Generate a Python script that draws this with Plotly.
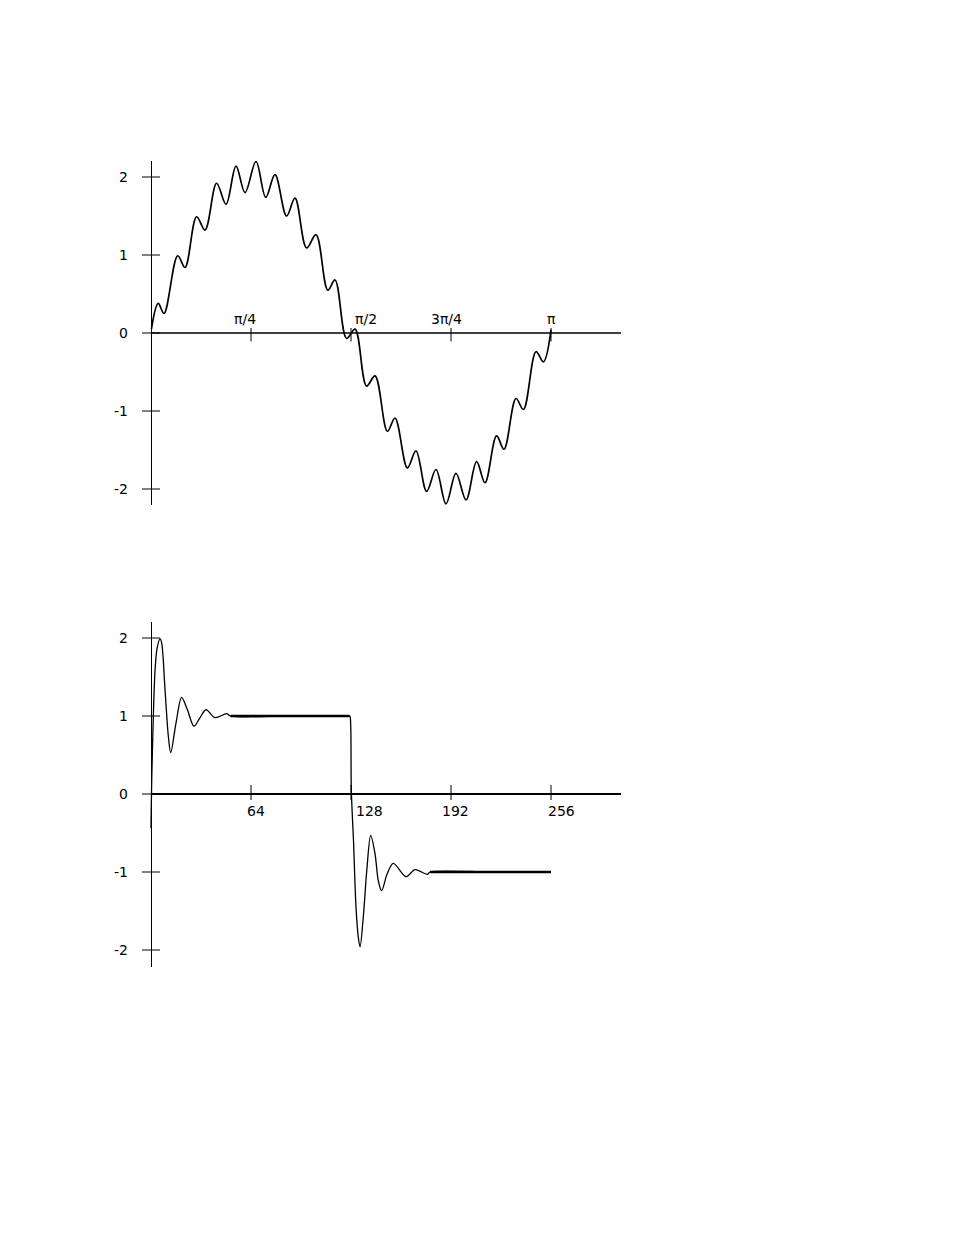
import numpy as np
import plotly.graph_objects as go

# ---------------- data ----------------
# Top panel: x in multiples of pi, y values
top_x_over_pi = [0.001, 0.018, 0.0325, 0.0668, 0.085, 0.114, 0.135, 0.164, 0.1875,
                 0.2125, 0.235, 0.2625, 0.2868, 0.31, 0.339, 0.36, 0.389, 0.4125,
                 0.442, 0.46, 0.489, 0.51, 0.539, 0.56, 0.591, 0.61, 0.641, 0.6625,
                 0.689, 0.7125, 0.7375, 0.7625, 0.7875, 0.814, 0.835, 0.864, 0.8825,
                 0.9125, 0.931, 0.9625, 0.981, 1.0]
top_y = [0.05, 0.38, 0.25, 0.99, 0.84, 1.49, 1.32, 1.92, 1.65,
         2.14, 1.80, 2.20, 1.74, 2.03, 1.50, 1.73, 1.09, 1.26,
         0.55, 0.68, -0.07, 0.05, -0.68, -0.55, -1.26, -1.09, -1.73, -1.51,
         -2.03, -1.75, -2.19, -1.80, -2.14, -1.65, -1.92, -1.32, -1.49,
         -0.84, -0.98, -0.24, -0.37, 0.04]
top_xtick_over_pi = [0.25, 0.5, 0.75, 1.0]
top_xtick_labels = ["π/4", "π/2", "3π/4", "π"]

# Bottom panel: sample index n, y values
bottom_n = [0, 0.6, 2.6, 4.0, 5.8, 6.8, 9.0, 11.1, 12.6, 16.0, 19.6, 23.3, 27.5,
            31.4, 35.2, 41.0, 48.4, 51.0, 90.0, 125.5, 127.2, 127.8, 128.2, 129.6,
            131.2, 132.7, 133.8, 135.9, 138.1, 140.6, 143.4, 145.5, 147.6, 151.2,
            155.1, 163.2, 169.0, 176.8, 178.6, 217.0, 256.0]
bottom_y = [-0.44, 0.30, 1.59, 1.88, 1.99, 1.94, 1.33, 0.74, 0.53, 0.91, 1.24, 1.08, 0.87,
            0.98, 1.08, 0.98, 1.03, 1.0, 1.0, 1.0, 1.0, 0.88, 0.05, -0.6,
            -1.45, -1.84, -1.96, -1.57, -0.98, -0.53, -0.77, -1.115, -1.24, -1.02,
            -0.89, -1.06, -0.97, -1.03, -1.0, -1.0, -1.0]
bottom_xtick_vals = [64, 128, 192, 256]
bottom_xtick_labels = ["64", "128", "192", "256"]

ytick_vals = [2, 1, 0, -1, -2]
ytick_labels = ["2", "1", "0", "-1", "-2"]

# ---------------- layout geometry (pixels, page coordinates) ----------------
BODY = 8                      # default page margin around the plot div
W, H = 954 - BODY, 1235 - BODY
AX_X0 = 151 - BODY            # pixel of x = 0
PLOT_L, PLOT_R = 121 - BODY, 631 - BODY
AXIS_END = 621 - BODY
PX_PER_Y = 78.0

top_ppu = 400.0 / np.pi        # pixels per radian
bot_ppu = 100.0 / 64.0         # pixels per sample

top_y_px = (161 - BODY, 505 - BODY, 333 - BODY)     # top, bottom, zero
bot_y_px = (622 - BODY, 967 - BODY, 794 - BODY)

FONT = dict(family="DejaVu Sans, Liberation Sans, sans-serif", size=14, color="black")


def xdomain():
    return [PLOT_L / W, PLOT_R / W]


def ydomain(py):
    return [1 - py[1] / H, 1 - py[0] / H]


def yrange(py):
    return [-(py[1] - py[2]) / PX_PER_Y, (py[2] - py[0]) / PX_PER_Y]


fig = go.Figure()

top_x = [v * np.pi for v in top_x_over_pi]
fig.add_trace(go.Scatter(x=top_x, y=top_y, mode="lines", xaxis="x", yaxis="y",
                         line=dict(color="black", width=1.7, shape="spline", smoothing=1.0),
                         hoverinfo="skip", showlegend=False))

fig.add_trace(go.Scatter(x=bottom_n, y=bottom_y, mode="lines", xaxis="x2", yaxis="y2",
                         line=dict(color="black", width=1.3, shape="spline", smoothing=0.9),
                         hoverinfo="skip", showlegend=False))

# thicker flat runs of the bottom curve
flat_x, flat_y = [], []
prev = None
for i, (n, v) in enumerate(zip(bottom_n, bottom_y)):
    if abs(abs(v) - 1.0) < 1e-9:
        if prev is not None and prev != i - 1:
            flat_x.append(None)
            flat_y.append(None)
        flat_x.append(n)
        flat_y.append(v)
        prev = i
fig.add_trace(go.Scatter(x=flat_x, y=flat_y, mode="lines", xaxis="x2", yaxis="y2",
                         line=dict(color="black", width=2.4),
                         hoverinfo="skip", showlegend=False))

common_x = dict(showgrid=False, showticklabels=False, ticks="", showline=False,
                zeroline=True, zerolinecolor="black", zerolinewidth=1, fixedrange=True)
common_y = dict(showgrid=False, showticklabels=False, ticks="", showline=False,
                zeroline=False, fixedrange=True)

fig.update_layout(
    width=W, height=H,
    margin=dict(l=0, r=0, t=0, b=0),
    paper_bgcolor="white", plot_bgcolor="white",
    showlegend=False,
    xaxis=dict(domain=xdomain(), anchor="y",
               range=[(PLOT_L - AX_X0) / top_ppu, (PLOT_R - AX_X0) / top_ppu], **common_x),
    yaxis=dict(domain=ydomain(top_y_px), anchor="x", range=yrange(top_y_px), **common_y),
    xaxis2=dict(domain=xdomain(), anchor="y2",
                range=[(PLOT_L - AX_X0) / bot_ppu, (PLOT_R - AX_X0) / bot_ppu], **common_x),
    yaxis2=dict(domain=ydomain(bot_y_px), anchor="x2", range=yrange(bot_y_px), **common_y),
)

shapes = []
annotations = []

# horizontal axis lines
shapes.append(dict(type="line", xref="x", yref="y", x0=0, x1=(AXIS_END - AX_X0) / top_ppu,
                   y0=0, y1=0, line=dict(color="black", width=1.3)))
shapes.append(dict(type="line", xref="x2", yref="y2", x0=0, x1=(AXIS_END - AX_X0) / bot_ppu,
                   y0=0, y1=0, line=dict(color="black", width=2)))

# y ticks and labels for both panels
for xr, yr in (("x", "y"), ("x2", "y2")):
    for v, lab in zip(ytick_vals, ytick_labels):
        shapes.append(dict(type="line", xref=xr, yref=yr, xsizemode="pixel", xanchor=0,
                           x0=-9, x1=9, y0=v, y1=v, line=dict(color="black", width=1)))
        annotations.append(dict(xref=xr, yref=yr, x=0, y=v, text=lab, showarrow=False,
                                xanchor="right", yanchor="middle", xshift=-21, font=FONT))

# top x ticks: labels above the axis
top_label_shift = [-6, 15, -5, 0]
for v, lab, sh in zip(top_xtick_over_pi, top_xtick_labels, top_label_shift):
    xv = v * np.pi
    shapes.append(dict(type="line", xref="x", yref="y", ysizemode="pixel", yanchor=0,
                       x0=xv, x1=xv, y0=-8.5, y1=5, line=dict(color="black", width=1)))
    annotations.append(dict(xref="x", yref="y", x=xv, y=0, text=lab, showarrow=False,
                            xanchor="center", yanchor="bottom", xshift=sh, yshift=4, font=FONT))

# bottom x ticks: labels below the axis
bot_label_shift = [5, 18, 4, 10]
for v, lab, sh in zip(bottom_xtick_vals, bottom_xtick_labels, bot_label_shift):
    shapes.append(dict(type="line", xref="x2", yref="y2", ysizemode="pixel", yanchor=0,
                       x0=v, x1=v, y0=-6, y1=9, line=dict(color="black", width=1)))
    annotations.append(dict(xref="x2", yref="y2", x=v, y=0, text=lab, showarrow=False,
                            xanchor="center", yanchor="top", xshift=sh, yshift=-7, font=FONT))

fig.update_layout(shapes=shapes, annotations=annotations)

fig.write_html("out.html")
